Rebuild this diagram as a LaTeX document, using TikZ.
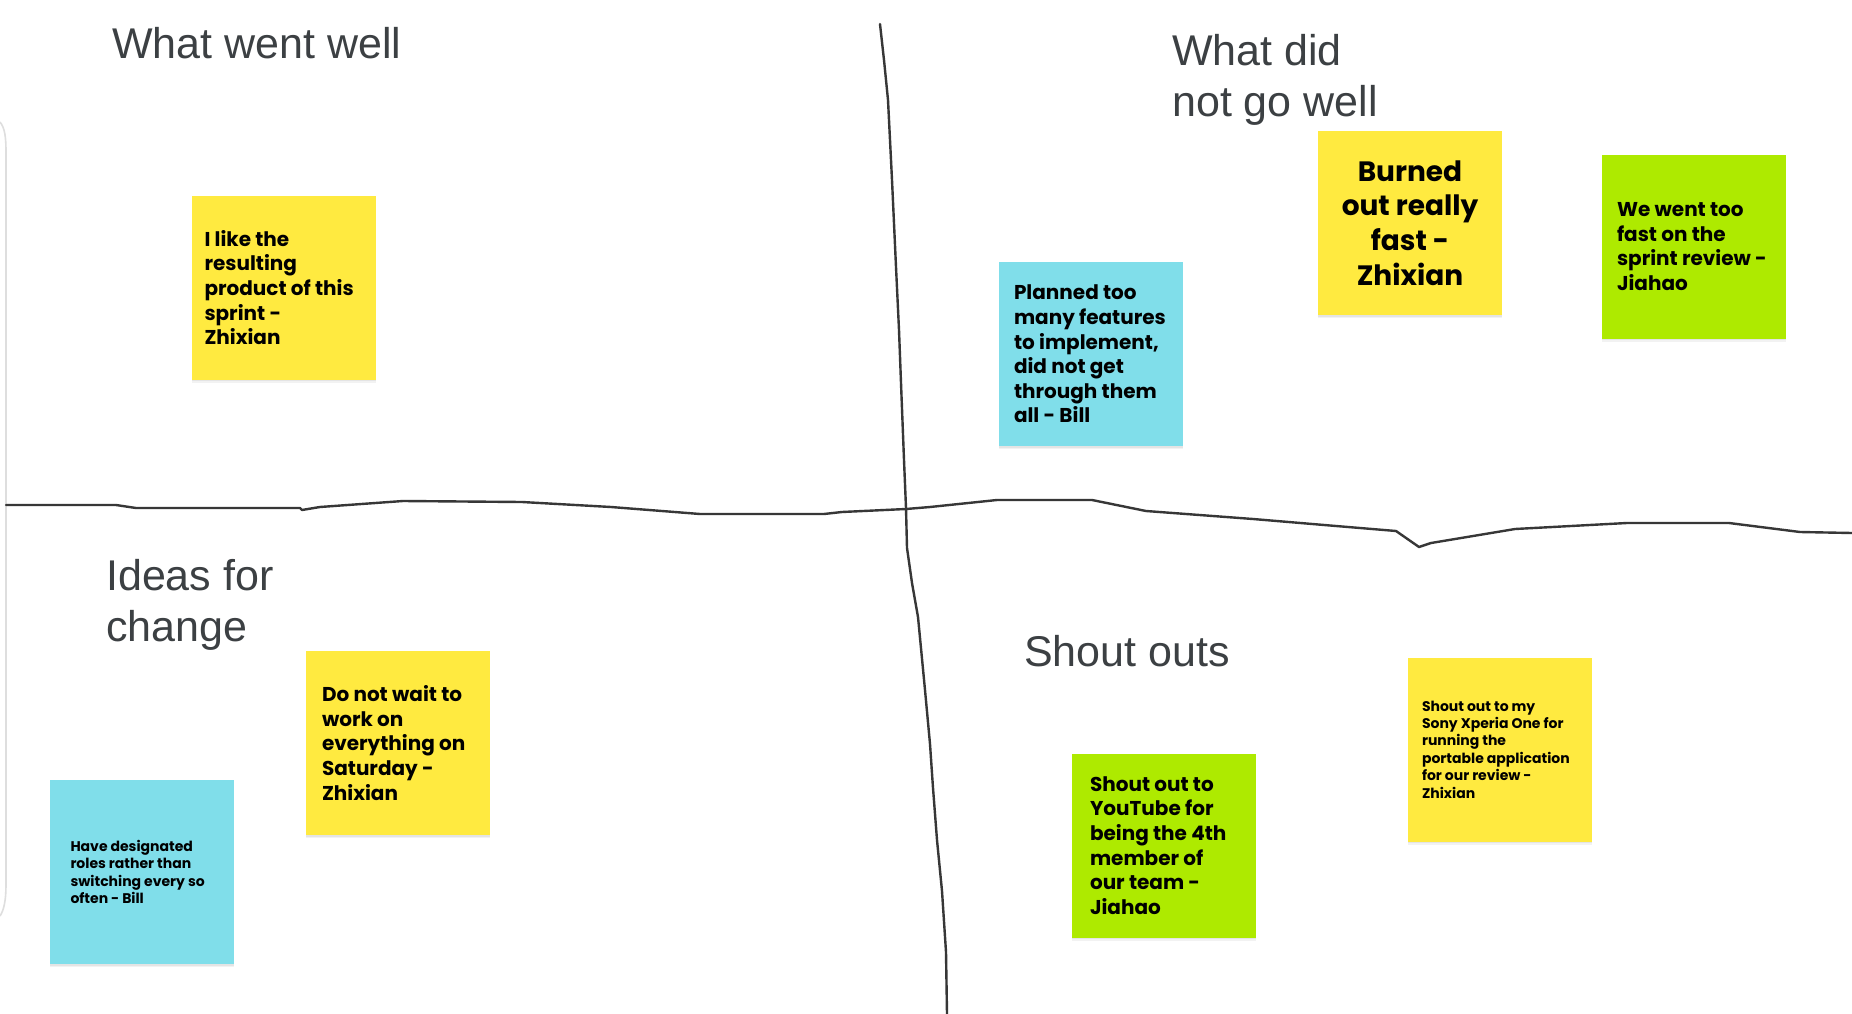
\documentclass[tikz,border=0pt]{standalone}
\usepackage{fontspec}
\setmainfont{Liberation Sans}
\newfontfamily\notefont{Poppins}
\usetikzlibrary{shadows}
\definecolor{noteyellow}{RGB}{255,234,64}
\definecolor{notecyan}{RGB}{128,222,234}
\definecolor{notegreen}{RGB}{174,234,0}
\definecolor{headgray}{RGB}{60,64,67}
\definecolor{penline}{RGB}{55,55,55}
\definecolor{paneledge}{RGB}{222,222,222}
\begin{document}
\begin{tikzpicture}[x=1pt,y=-1pt,
  heading/.style={inner sep=0pt, text=headgray, align=left,
    font=\fontsize{43}{51}\selectfont},
  note/.style={minimum width=184pt, minimum height=184pt, inner sep=0pt,
    drop shadow={shadow xshift=0pt, shadow yshift=-3pt, opacity=0.10},
    drop shadow={shadow xshift=0pt, shadow yshift=-1.5pt, opacity=0.12}},
  notetext/.style={inner sep=0pt, anchor=west, align=left, text=black},
  bodytext/.style={notetext, font=\notefont\bfseries\fontsize{20}{24.6}\selectfont},
  smalltext/.style={notetext, font=\notefont\bfseries\fontsize{14}{17.4}\selectfont},
  bigtext/.style={inner sep=0pt, align=center, text=black,
    font=\notefont\bfseries\fontsize{28}{34.6}\selectfont},
  pen/.style={draw=penline, line width=2.4pt, line join=round, line cap=round}]

\useasboundingbox (0,0) rectangle (1852,1014);
\fill[white] (0,0) rectangle (1852,1014);

% edge of the board panel
\draw[paneledge, line width=1.6pt] (0,122) .. controls (5,128) and (6,138) .. (6,152)
  -- (6,885) .. controls (6,900) and (4,910) .. (0,916);

% hand-drawn quadrant dividers
\draw[pen] (880,24) -- (884,60) -- (888,100) -- (892,180) -- (896,267) -- (899,330)
  -- (901,383) -- (904,460) -- (906,508) -- (907,548) -- (912,583) -- (918,617)
  -- (925,690) -- (930,744) -- (933,788) -- (937,840) -- (942,891) -- (946,952) -- (947,1014);
\draw[pen] (6,505) -- (116,505) -- (136,508) -- (300,508) -- (302,510) -- (320,507)
  -- (403,501) -- (522,502) -- (611,507) -- (700,514) -- (824,514) -- (842,512)
  -- (906,509) -- (930,507) -- (997,500) -- (1092,500) -- (1146,511) -- (1253,519)
  -- (1336,526) -- (1396,531) -- (1419,547) -- (1431,543) -- (1515,529) -- (1627,523)
  -- (1729,523) -- (1800,532) -- (1852,533);

% quadrant headings (base anchor sits on the last line)
\node[heading, anchor=base west] (wentwell) at (112,59) {What went well};
\node[heading, anchor=base west] (notwell) at (1172,117) {What did\\not go well};
\node[heading, anchor=base west] (ideas) at (106,641) {Ideas for\\change};
\node[heading, anchor=base west] (shouts) at (1024,666) {Shout outs};

% sticky notes
\node[note, fill=noteyellow] (likeproduct) at (283.5,287.5) {};
\node[bodytext] (likeproducttext) at ([xshift=13pt]likeproduct.west)
  {I like the\\resulting\\product of this\\sprint -\\Zhixian};

\node[note, fill=notecyan] (planned) at (1091,354) {};
\node[bodytext] (plannedtext) at ([xshift=15pt]planned.west)
  {Planned too\\many features\\to implement,\\did not get\\through them\\all - Bill};

\node[note, fill=noteyellow] (burned) at (1410,223) {};
\node[bigtext] (burnedtext) at (burned.center)
  {Burned\\out really\\fast -\\Zhixian};

\node[note, fill=notegreen] (toofast) at (1694,246.5) {};
\node[bodytext] (toofasttext) at ([xshift=15pt]toofast.west)
  {We went too\\fast on the\\sprint review -\\Jiahao};

\node[note, fill=noteyellow] (nowait) at (398,743) {};
\node[bodytext] (nowaittext) at ([xshift=16pt]nowait.west)
  {Do not wait to\\work on\\everything on\\Saturday -\\Zhixian};

\node[note, fill=notecyan] (roles) at (141.5,872) {};
\node[smalltext] (rolestext) at ([xshift=21pt]roles.west)
  {Have designated\\roles rather than\\switching every so\\often - Bill};

\node[note, fill=notegreen] (youtube) at (1164,845.5) {};
\node[bodytext] (youtubetext) at ([xshift=18pt]youtube.west)
  {Shout out to\\YouTube for\\being the 4th\\member of\\our team -\\Jiahao};

\node[note, fill=noteyellow] (xperia) at (1500,749.5) {};
\node[smalltext] (xperiatext) at ([xshift=14pt]xperia.west)
  {Shout out to my\\Sony Xperia One for\\running the\\portable application\\for our review -\\Zhixian};

\end{tikzpicture}
\end{document}
